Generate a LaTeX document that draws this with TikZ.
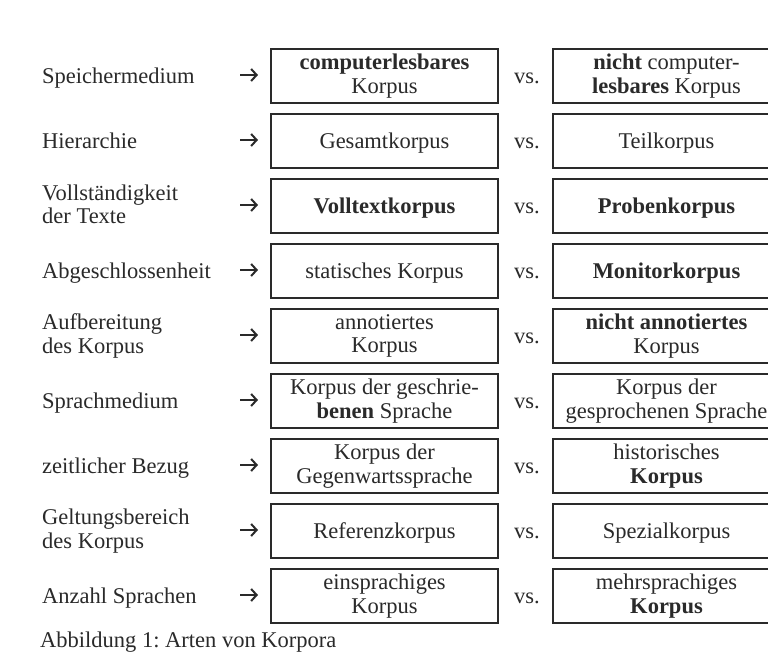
\documentclass[tikz,border=0pt]{standalone}
\usepackage{fontspec}
\usetikzlibrary{arrows.meta}
\setmainfont{Liberation Serif}
\definecolor{ink}{HTML}{2A2A2A}
\newcommand{\mystrut}{\rule[-4pt]{0pt}{23.5pt}}
\frenchspacing
\begin{document}
\begin{tikzpicture}[x=1pt,y=1pt,
  txt/.style={text=ink,font=\fontsize{22.5}{23.5}\selectfont,inner sep=0pt,
    execute at begin node={\mystrut},execute at end node={\mystrut}},
  lab/.style={txt,anchor=west,align=left},
  box/.style={txt,draw=ink,line width=1.4pt,minimum width=227pt,minimum height=54pt,align=center},
  arrowline/.style={draw=ink,line width=2pt,-{Straight Barb[length=5.5pt,width=12pt,line width=2pt]}},
  vs/.style={txt}]
\clip (0,0) rectangle (768,658);
\fill[white] (0,0) rectangle (768,658);
\foreach \i/\l/\a/\b in {
  1/{Speichermedium}/{\textbf{computerlesbares}\\Korpus}/{\textbf{nicht} computer-\\\textbf{lesbares} Korpus},
  2/{Hierarchie}/{Gesamtkorpus}/{Teilkorpus},
  3/{Vollständigkeit\\der Texte}/{\textbf{Volltextkorpus}}/{\textbf{Probenkorpus}},
  4/{Abgeschlossenheit}/{statisches Korpus}/{\textbf{Monitorkorpus}},
  5/{Aufbereitung\\des Korpus}/{annotiertes\\Korpus}/{\textbf{nicht annotiertes}\\Korpus},
  6/{Sprachmedium}/{Korpus der geschrie-\\\textbf{benen} Sprache}/{Korpus der\\gesprochenen Sprache},
  7/{zeitlicher Bezug}/{Korpus der\\Gegenwartssprache}/{historisches\\\textbf{Korpus}},
  8/{Geltungsbereich\\des Korpus}/{Referenzkorpus}/{Spezialkorpus},
  9/{Anzahl Sprachen}/{einsprachiges\\Korpus}/{mehrsprachiges\\\textbf{Korpus}}}{
  \pgfmathsetmacro{\yy}{658-(76+65*(\i-1))}
  \node[lab] (l\i) at (42,\yy) {\l};
  \coordinate (rs\i) at (240,\yy+1);
  \coordinate (re\i) at (258,\yy+1);
  \draw[arrowline] (rs\i) -- (re\i);
  \node[box] (a\i) at (384.5,\yy) {\a};
  \node[vs] (v\i) at (527,\yy) {vs.};
  \node[box] (b\i) at (666.5,\yy) {\b};
}
\node[lab] (cap) at (40,18) {Abbildung 1: Arten von Korpora};
\end{tikzpicture}
\end{document}
